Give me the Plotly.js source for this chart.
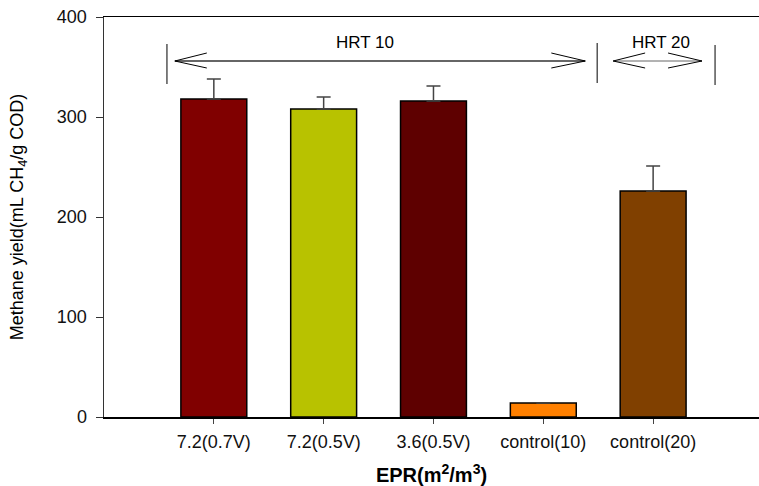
<!DOCTYPE html>
<html>
<head>
<meta charset="utf-8">
<script src="https://cdn.plot.ly/plotly-3.0.1.min.js"></script>
<style>html,body{margin:0;padding:0;background:#fff;}#chart{width:759px;height:486px;}</style>
</head>
<body>
<div id="chart"></div>
<script>
// ---- data ----
const categories = ["7.2(0.7V)", "7.2(0.5V)", "3.6(0.5V)", "control(10)", "control(20)"];
const methaneYield = [318, 308, 316, 14, 226];
const yieldError = [20, 12, 15, 0, 25];
const yTickValues = [0, 100, 200, 300, 400];
const groupLabels = ["HRT 10", "HRT 20"];

// ---- styling ----
const barColors = ["#800000", "#b8c200", "#5e0000", "#ff8000", "#804000"];
const FONT = "Liberation Sans, Arial, sans-serif";

const trace = {
  type: "bar",
  x: categories,
  y: methaneYield,
  width: 0.6,
  marker: {color: barColors, line: {color: "#000", width: 1.5}},
  error_y: {type: "data", array: yieldError, symmetric: false, arrayminus: yieldError.map(() => 0),
            color: "#444", thickness: 1.5, width: 7},
  hoverinfo: "x+y"
};

function seg(x0, y0, x1, y1, color, w) {
  return {type: "line", xref: "x", yref: "y", x0: x0, y0: y0, x1: x1, y1: y1,
          line: {color: color, width: w}};
}
function chev(tipX, tipY, backX) {
  return {type: "path", xref: "x", yref: "y",
          path: `M ${backX} ${tipY + 8} L ${tipX} ${tipY} L ${backX} ${tipY - 7}`,
          line: {color: "#000", width: 1}};
}

const shapes = [
  seg(-0.427, 333, -0.427, 373, "#555", 1.5),
  seg(-0.355, 356, 3.382, 356, "#666", 2),
  chev(-0.355, 356, -0.064),
  chev(3.382, 356, 3.073),
  seg(3.491, 334, 3.491, 374, "#555", 1.5),
  seg(3.636, 356, 4.445, 356, "#666", 1),
  chev(3.636, 356, 3.927),
  chev(4.445, 356, 4.136),
  seg(4.564, 332, 4.564, 372, "#555", 1.5)
];

const annotations = [
  {xref: "x", yref: "y", x: 1.38, y: 375, text: groupLabels[0], showarrow: false,
   font: {family: FONT, size: 17, color: "#000"}},
  {xref: "x", yref: "y", x: 4.07, y: 375, text: groupLabels[1], showarrow: false,
   font: {family: FONT, size: 17, color: "#000"}}
];

const layout = {
  width: 759, height: 486,
  margin: {l: 104, r: 0, t: 17, b: 69, pad: 0},
  paper_bgcolor: "#fff", plot_bgcolor: "#fff",
  showlegend: false,
  font: {family: FONT, size: 18, color: "#111"},
  bargap: 0.4,
  xaxis: {
    type: "category",
    range: [-1, 4.964],
    showline: true, linecolor: "#000", linewidth: 1.5, mirror: true,
    ticks: "outside", ticklen: 5, tickcolor: "#444", tickwidth: 1,
    showgrid: false, zeroline: false, fixedrange: true,
    ticklabelstandoff: 3,
    tickfont: {family: FONT, size: 18, color: "#111"},
    title: {text: "<b>EPR(m<sup>2</sup>/m<sup>3</sup>)</b>", font: {family: FONT, size: 20, color: "#000"}, standoff: 18}
  },
  yaxis: {
    range: [0, 400],
    tickvals: yTickValues,
    showline: true, linecolor: "#333", linewidth: 1.5,
    ticks: "outside", ticklen: 7, tickcolor: "#333", tickwidth: 1,
    showgrid: false, zeroline: false, fixedrange: true,
    ticklabelstandoff: 5,
    tickfont: {family: FONT, size: 18, color: "#111"},
    title: {text: "Methane yield(mL CH<sub>4</sub>/g COD)", font: {family: FONT, size: 18, color: "#000"}, standoff: 28}
  },
  shapes: shapes,
  annotations: annotations
};

Plotly.newPlot("chart", [trace], layout, {displayModeBar: false, staticPlot: true});
</script>
</body>
</html>
